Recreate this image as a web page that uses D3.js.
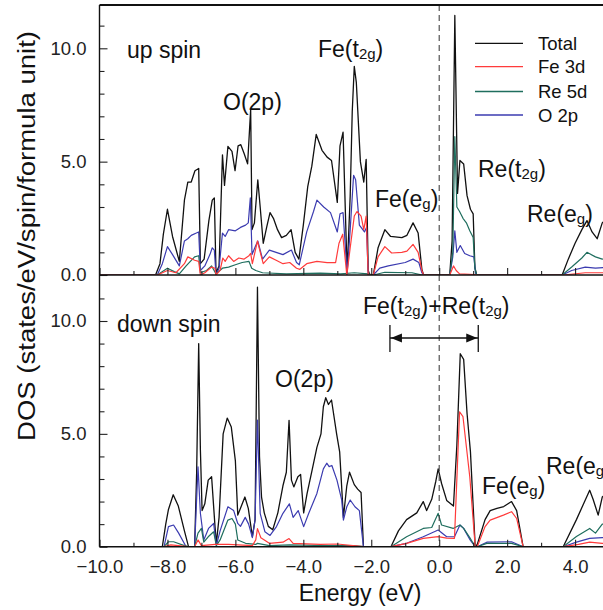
<!DOCTYPE html>
<html><head><meta charset="utf-8">
<script src="https://cdn.jsdelivr.net/npm/d3@7"></script>
<style>html,body{margin:0;padding:0;background:#fff;} svg{display:block;}</style>
</head><body>
<svg id="chart" width="603" height="610"></svg>
<script>
// ---------- data ----------
const energyTicks = [-10, -8, -6, -4, -2, 0, 2, 4];
const dosTicks = [0, 5, 10];
const seriesNames = ["Total", "Fe 3d", "Re 5d", "O 2p"];

// up spin  [energy (eV), DOS]
const upTotal = [[-10,0],[-8.35,0],[-8.22,0.5],[-8.12,1.8],[-8.0,2.9],[-7.85,1.7],[-7.65,0.6],[-7.5,3.3],[-7.4,4.1],[-7.3,4.1],[-7.19,4.6],[-7.08,4.7],[-7.03,0.5],[-6.92,0.7],[-6.78,2.4],[-6.68,3.3],[-6.62,3.4],[-6.57,0.1],[-6.48,0.4],[-6.38,5.3],[-6.32,3.95],[-6.22,5.67],[-6.1,5.45],[-6.01,4.6],[-5.92,5.7],[-5.84,5.75],[-5.74,5.35],[-5.64,4.9],[-5.58,6.5],[-5.55,7.3],[-5.51,2.0],[-5.44,2.3],[-5.34,4.2],[-5.27,3.0],[-5.18,1.4],[-5.08,2.1],[-4.98,2.75],[-4.88,2.5],[-4.76,2.0],[-4.64,1.65],[-4.5,1.75],[-4.36,2.0],[-4.24,1.0],[-4.13,0.7],[-4.0,2.2],[-3.87,3.9],[-3.75,4.8],[-3.62,6.2],[-3.45,5.5],[-3.3,5.2],[-3.17,5.05],[-3.0,3.2],[-2.92,5.7],[-2.83,6.3],[-2.71,0.1],[-2.62,3.5],[-2.56,7.2],[-2.5,9.2],[-2.44,8.5],[-2.32,5.0],[-2.22,4.1],[-2.15,5.1],[-2.09,0.2],[-2.04,0],[-1.94,0],[-1.8,1.2],[-1.6,2.0],[-1.43,1.7],[-1.1,1.65],[-0.95,1.75],[-0.77,2.3],[-0.62,1.85],[-0.51,0.25],[-0.46,0],[0.31,0],[0.38,1.5],[0.46,11.45],[0.54,3.6],[0.61,5.05],[0.72,4.9],[0.82,3.5],[0.92,2.9],[1.0,2.7],[1.05,0.35],[1.1,0],[3.62,0],[3.8,0.7],[4.0,1.4],[4.2,2.0],[4.35,2.4],[4.5,1.9],[4.65,1.6],[4.8,2.3],[5.0,2.6]];
const upFe3d = [[-10,0],[-8.3,0],[-8.0,0.2],[-7.75,0.1],[-7.5,0.5],[-7.4,0.8],[-7.2,0.65],[-7.08,0.6],[-7.03,0],[-6.9,0.1],[-6.7,0.35],[-6.6,0.3],[-6.57,0],[-6.45,0.2],[-6.37,0.75],[-6.3,0.6],[-6.2,0.85],[-6.05,0.6],[-5.9,0.75],[-5.75,0.7],[-5.6,0.85],[-5.55,0.95],[-5.5,0.5],[-5.35,1.5],[-5.25,0.9],[-5.18,0.5],[-5.0,0.8],[-4.8,0.65],[-4.6,0.5],[-4.4,0.55],[-4.2,0.3],[-4.1,0.25],[-3.9,0.5],[-3.6,0.6],[-3.3,0.55],[-3.05,0.55],[-2.95,1.4],[-2.84,1.8],[-2.72,0],[-2.62,1.2],[-2.5,2.6],[-2.42,2.8],[-2.3,2.6],[-2.22,2.0],[-2.15,2.6],[-2.09,0],[-1.94,0],[-1.8,0.8],[-1.6,1.25],[-1.4,0.97],[-1.1,1.0],[-0.95,1.05],[-0.77,1.35],[-0.62,1.0],[-0.51,0.2],[-0.46,0],[0.31,0],[0.42,0.4],[0.5,0.2],[0.6,0.05],[1.05,0.02],[1.1,0],[3.65,0],[4.3,0.1],[5.0,0.1]];
const upRe5d = [[-10,0],[-8.3,0],[-8.0,0.3],[-7.8,0.15],[-7.65,0.05],[-7.45,0.4],[-7.2,0.8],[-7.08,0.85],[-7.03,0.1],[-6.85,0.2],[-6.7,0.4],[-6.57,0.05],[-6.38,0.3],[-6.2,0.35],[-6.0,0.45],[-5.8,0.55],[-5.6,0.6],[-5.52,0.3],[-5.4,0.2],[-5.2,0.1],[-4.5,0.05],[-3.5,0.08],[-2.9,0.05],[-2.5,0.1],[-2.09,0.05],[-1.94,0],[-1.6,0.12],[-0.8,0.1],[-0.5,0],[0.31,0],[0.4,1.0],[0.46,6.1],[0.52,3.0],[0.6,2.8],[0.7,2.5],[0.8,2.3],[0.9,1.95],[1.0,1.65],[1.05,0.3],[1.1,0],[3.62,0],[3.9,0.35],[4.2,0.75],[4.35,1.0],[4.6,0.8],[4.8,0.7],[5.0,0.8]];
const upO2p = [[-10,0],[-8.3,0],[-8.15,0.5],[-8.0,1.25],[-7.85,0.9],[-7.65,0.4],[-7.5,1.5],[-7.4,1.6],[-7.3,1.75],[-7.15,1.85],[-7.08,1.9],[-7.03,0.2],[-6.9,0.4],[-6.75,0.9],[-6.68,1.2],[-6.62,1.1],[-6.57,0],[-6.48,0.3],[-6.38,1.85],[-6.3,1.7],[-6.2,2.0],[-6.0,1.95],[-5.85,2.1],[-5.7,2.2],[-5.62,2.3],[-5.56,3.4],[-5.51,0.9],[-5.4,1.3],[-5.34,1.5],[-5.2,0.7],[-5.0,1.1],[-4.8,1.0],[-4.6,0.9],[-4.35,1.1],[-4.2,0.55],[-4.12,0.45],[-3.9,1.9],[-3.7,2.8],[-3.6,3.3],[-3.4,3.0],[-3.2,2.75],[-3.0,1.9],[-2.92,2.7],[-2.83,2.75],[-2.71,0.05],[-2.62,2.0],[-2.52,4.4],[-2.46,4.2],[-2.35,2.2],[-2.2,1.9],[-2.14,2.1],[-2.09,0],[-1.94,0],[-1.75,0.3],[-1.5,0.4],[-1.0,0.55],[-0.77,0.7],[-0.6,0.55],[-0.51,0.1],[-0.46,0],[0.31,0],[0.4,0.8],[0.46,1.95],[0.52,1.0],[0.62,1.3],[0.75,0.95],[0.9,0.85],[1.02,0.8],[1.07,0.1],[1.1,0],[3.62,0],[3.9,0.2],[4.3,0.35],[4.6,0.3],[5.0,0.35]];

// down spin
const dnTotal = [[-10,0],[-8.15,0],[-8.05,1.0],[-7.97,1.65],[-7.83,2.3],[-7.68,1.8],[-7.5,0.7],[-7.38,0],[-7.2,0],[-7.14,3.3],[-7.08,9.0],[-7.03,4.3],[-6.98,1.6],[-6.9,1.9],[-6.8,2.95],[-6.7,3.1],[-6.6,0.9],[-6.56,0.15],[-6.48,1.3],[-6.36,5.0],[-6.24,5.7],[-6.12,5.3],[-6.0,3.8],[-5.93,1.4],[-5.85,1.7],[-5.72,2.2],[-5.62,1.7],[-5.5,0.45],[-5.42,1.2],[-5.35,11.5],[-5.29,4.0],[-5.23,2.2],[-5.15,1.5],[-5.03,0.9],[-4.9,0.75],[-4.75,1.5],[-4.6,2.7],[-4.5,3.3],[-4.42,5.6],[-4.35,2.95],[-4.28,2.65],[-4.16,3.1],[-4.08,3.2],[-3.99,1.5],[-3.89,2.35],[-3.74,3.4],[-3.6,4.4],[-3.48,5.0],[-3.41,6.2],[-3.34,6.6],[-3.26,6.3],[-3.17,6.5],[-3.02,5.0],[-2.93,4.2],[-2.82,1.3],[-2.72,2.7],[-2.64,3.3],[-2.5,2.75],[-2.4,2.55],[-2.3,2.4],[-2.23,0],[-1.42,0],[-1.2,0.7],[-0.96,1.2],[-0.66,1.5],[-0.47,2.0],[-0.37,1.6],[-0.22,2.1],[-0.1,2.9],[-0.03,3.45],[0.07,2.8],[0.22,2.05],[0.42,1.8],[0.52,4.5],[0.62,8.55],[0.72,8.3],[0.82,5.9],[0.92,4.2],[1.06,0],[1.12,0.1],[1.35,1.2],[1.5,1.6],[1.7,1.7],[1.9,1.78],[2.13,2.0],[2.28,1.6],[2.47,0],[3.65,0],[4.04,1.2],[4.43,2.5],[4.53,2.1],[4.68,1.4],[4.8,2.2],[5.0,2.5]];
const dnFe3d = [[-10,0],[-8.1,0],[-7.9,0.08],[-7.4,0],[-7.2,0],[-7.1,0.3],[-7.0,0.05],[-6.6,0.1],[-6.2,0.1],[-5.5,0.05],[-5.4,0.3],[-5.35,0.8],[-5.25,0.4],[-5.0,0.15],[-4.6,0.2],[-4.42,0.36],[-4.3,0.15],[-3.5,0.1],[-3.0,0.12],[-2.23,0],[-1.42,0],[-0.96,0.15],[-0.47,0.37],[-0.03,0.45],[0.22,0.38],[0.45,0.37],[0.52,3.0],[0.6,5.98],[0.7,5.76],[0.8,4.43],[0.9,3.1],[1.06,0],[1.12,0],[1.35,0.89],[1.5,1.18],[1.89,1.4],[2.13,1.55],[2.28,1.25],[2.47,0],[3.65,0],[4.1,0.1],[4.43,0.2],[4.8,0.15],[5.0,0.15]];
const dnRe5d = [[-10,0],[-8.1,0],[-7.97,0.22],[-7.82,0.22],[-7.5,0.05],[-7.38,0],[-7.2,0],[-7.1,0.6],[-7.0,0.81],[-6.93,0.2],[-6.8,0.44],[-6.64,0.66],[-6.56,0.05],[-6.45,0.3],[-6.22,1.18],[-6.1,1.25],[-6.0,1.0],[-5.93,0.3],[-5.7,0.15],[-5.4,0.1],[-5.35,0.15],[-5.0,0.05],[-4.4,0.08],[-3.3,0.05],[-2.5,0.05],[-2.23,0],[-1.42,0],[-0.96,0.44],[-0.47,0.81],[-0.22,0.85],[-0.03,1.48],[0.07,0.96],[0.41,0.81],[0.61,0.96],[0.72,0.81],[0.9,0.4],[1.06,0],[1.12,0],[1.4,0.15],[2.13,0.15],[2.47,0],[3.65,0],[4.04,0.45],[4.43,0.81],[4.6,0.6],[4.8,1.0],[5.0,1.0]];
const dnO2p = [[-10,0],[-8.1,0],[-7.97,0.89],[-7.82,0.96],[-7.67,0.6],[-7.45,0],[-7.2,0],[-7.1,3.54],[-7.03,1.48],[-6.93,0.3],[-6.79,0.81],[-6.64,1.03],[-6.56,0.05],[-6.45,0.7],[-6.22,1.77],[-6.05,1.6],[-5.93,1.03],[-5.85,0.9],[-5.71,1.3],[-5.61,1.0],[-5.5,0.4],[-5.42,1.2],[-5.35,5.61],[-5.27,1.48],[-5.13,0.66],[-4.98,0.5],[-4.79,0.89],[-4.6,1.48],[-4.41,1.9],[-4.3,1.3],[-4.15,1.6],[-3.99,0.89],[-3.84,1.48],[-3.6,2.36],[-3.41,3.45],[-3.31,3.7],[-3.24,3.55],[-3.16,3.6],[-3.01,2.95],[-2.87,2.07],[-2.82,1.18],[-2.72,1.77],[-2.62,2.07],[-2.48,1.77],[-2.35,1.6],[-2.23,0],[-1.42,0],[-0.96,0.15],[-0.47,0.44],[-0.03,0.74],[0.22,0.44],[0.45,0.44],[0.61,0.96],[0.72,0.81],[0.91,0.3],[1.06,0],[1.12,0],[1.4,0.2],[2.13,0.22],[2.47,0],[3.65,0],[4.04,0.2],[4.43,0.37],[4.8,0.4],[5.0,0.4]];

// ---------- layout ----------
const FONT = "'Liberation Sans', Arial, Helvetica, sans-serif";
const colors = {"Total": "#111111", "Fe 3d": "#ff3b3b", "Re 5d": "#1f6e5e", "O 2p": "#3b3bb0"};
const svg = d3.select("#chart");
svg.append("rect").attr("width", 603).attr("height", 610).attr("fill", "#fff");

const x = d3.scaleLinear().domain([-10, 0]).range([99.5, 439.2]);
const xMax = 5.2;
const yTop = d3.scaleLinear().domain([0, 10]).range([275, 48.3]);
const yBot = d3.scaleLinear().domain([0, 10]).range([546.7, 321]);
const topY0 = 5;

const panels = [
  {y: yTop, top: topY0, bottom: 275, yMaxTick: 11, data: {"Total": upTotal, "Fe 3d": upFe3d, "Re 5d": upRe5d, "O 2p": upO2p}, id: "up"},
  {y: yBot, top: 275, bottom: 546.7, yMaxTick: 11, data: {"Total": dnTotal, "Fe 3d": dnFe3d, "Re 5d": dnRe5d, "O 2p": dnO2p}, id: "dn"}
];

const defs = svg.append("defs");
panels.forEach(p => {
  defs.append("clipPath").attr("id", "clip-" + p.id)
    .append("rect").attr("x", x(-10)).attr("y", p.top)
    .attr("width", x(xMax) - x(-10)).attr("height", p.bottom - p.top);
});

// data lines
const drawOrder = ["Total", "O 2p", "Re 5d", "Fe 3d"];
panels.forEach(p => {
  const line = d3.line().x(d => x(d[0])).y(d => p.y(d[1]));
  const g = svg.append("g").attr("clip-path", "url(#clip-" + p.id + ")");
  drawOrder.forEach(name => {
    g.append("path").datum(p.data[name])
      .attr("d", line).attr("fill", "none")
      .attr("stroke", colors[name]).attr("stroke-width", name === "Total" ? 1.3 : 1.2)
      .attr("stroke-linejoin", "round");
  });
});

// Fermi level dashed line
svg.append("line").attr("x1", x(0)).attr("x2", x(0)).attr("y1", topY0).attr("y2", yBot(0))
  .attr("stroke", "#444").attr("stroke-width", 1.1).attr("stroke-dasharray", "6,4");

// axes
const styleAxis = g => {
  g.select(".domain").remove();
  g.selectAll("line").attr("stroke", "#222").attr("stroke-width", 1.1);
  g.selectAll("text").attr("font-family", FONT).attr("fill", "#222");
};
panels.forEach(p => {
  svg.append("g").attr("transform", `translate(${x(-10)},0)`)
    .call(d3.axisLeft(p.y).tickValues(dosTicks).tickSizeInner(-8).tickSizeOuter(0).tickPadding(13).tickFormat(d3.format(".1f")))
    .call(styleAxis).call(g => g.selectAll("text").attr("font-size", 18.5));
  svg.append("g").attr("transform", `translate(${x(-10)},0)`)
    .call(d3.axisLeft(p.y).tickValues(d3.range(0, p.yMaxTick + 1).filter(v => v % 5 !== 0)).tickSizeInner(-5).tickSizeOuter(0).tickFormat(""))
    .call(styleAxis);
  svg.append("g").attr("transform", `translate(0,${p.bottom})`)
    .call(d3.axisBottom(x).tickValues(energyTicks).tickSizeInner(-7).tickSizeOuter(0).tickFormat(""))
    .call(styleAxis);
  svg.append("g").attr("transform", `translate(0,${p.bottom})`)
    .call(d3.axisBottom(x).tickValues(d3.range(-9, 5, 2)).tickSizeInner(-4).tickSizeOuter(0).tickFormat(""))
    .call(styleAxis);
});
svg.append("g").attr("transform", `translate(0,${yBot(0)})`)
  .call(d3.axisBottom(x).tickValues(energyTicks).tickSize(0).tickPadding(13).tickFormat(d3.format(".1f")))
  .call(styleAxis).call(g => g.selectAll("text").attr("font-size", 18.5));

// frame
const frame = svg.append("g").attr("stroke", "#111").attr("fill", "none");
frame.append("line").attr("x1", x(-10)).attr("x2", x(xMax)).attr("y1", topY0).attr("y2", topY0).attr("stroke-width", 1.8);
frame.append("line").attr("x1", x(-10)).attr("x2", x(xMax)).attr("y1", yTop(0)).attr("y2", yTop(0)).attr("stroke-width", 1.4);
frame.append("line").attr("x1", x(-10)).attr("x2", x(xMax)).attr("y1", yBot(0)).attr("y2", yBot(0)).attr("stroke-width", 1.4);
frame.append("line").attr("x1", x(-10)).attr("x2", x(-10)).attr("y1", topY0).attr("y2", yBot(0)).attr("stroke-width", 1.4);

// axis titles
svg.append("text").attr("x", 360).attr("y", 601).attr("text-anchor", "middle")
  .attr("font-family", FONT).attr("font-size", 23).attr("fill", "#111").text("Energy (eV)");
svg.append("text").attr("transform", "translate(35,236) rotate(-90)").attr("text-anchor", "middle")
  .attr("font-family", FONT).attr("font-size", 23).attr("fill", "#111")
  .attr("textLength", 410).attr("lengthAdjust", "spacingAndGlyphs")
  .text("DOS (states/eV/spin/formula unit)");

// annotations: parts = [text, isSub]
function label(px, py, parts) {
  const t = svg.append("text").attr("x", px).attr("y", py)
    .attr("font-family", FONT).attr("font-size", 23).attr("fill", "#111");
  let shifted = false;
  parts.forEach(([s, sub]) => {
    const ts = t.append("tspan").text(s);
    if (sub && !shifted) { ts.attr("font-size", 15).attr("dy", 2); shifted = true; }
    else if (!sub && shifted) { ts.attr("dy", -2); shifted = false; }
    else if (sub) ts.attr("font-size", 15);
  });
}
label(127, 58, [["up spin"]]);
label(318, 57, [["Fe(t"], ["2g", 1], [")"]]);
label(223, 110, [["O(2p)"]]);
label(375, 207, [["Fe(e"], ["g", 1], [")"]]);
label(478, 177, [["Re(t"], ["2g", 1], [")"]]);
label(527, 222, [["Re(e"], ["g", 1], [")"]]);
label(117, 332, [["down spin"]]);
label(275, 387, [["O(2p)"]]);
label(363, 314, [["Fe(t"], ["2g", 1], [")+Re(t"], ["2g", 1], [")"]]);
label(482, 494, [["Fe(e"], ["g", 1], [")"]]);
label(546, 474, [["Re(e"], ["g", 1], [")"]]);

// arrow annotation
const arrowY = 338, aL = x(-1.45), aR = x(1.15);
const ag = svg.append("g").attr("stroke", "#111").attr("fill", "#111");
ag.append("line").attr("x1", aL).attr("x2", aR).attr("y1", arrowY).attr("y2", arrowY).attr("stroke-width", 1.3);
ag.append("line").attr("x1", aL).attr("x2", aL).attr("y1", arrowY - 13).attr("y2", arrowY + 14).attr("stroke-width", 1.3);
ag.append("line").attr("x1", aR).attr("x2", aR).attr("y1", arrowY - 13).attr("y2", arrowY + 14).attr("stroke-width", 1.3);
ag.append("path").attr("stroke", "none").attr("d", `M${aL + 1},${arrowY} L${aL + 12},${arrowY - 4.5} L${aL + 12},${arrowY + 4.5} Z`);
ag.append("path").attr("stroke", "none").attr("d", `M${aR - 1},${arrowY} L${aR - 12},${arrowY - 4.5} L${aR - 12},${arrowY + 4.5} Z`);

// legend
const legY = [43.3, 66.7, 91.5, 115];
seriesNames.forEach((name, i) => {
  svg.append("line").attr("x1", 475).attr("x2", 523).attr("y1", legY[i]).attr("y2", legY[i])
    .attr("stroke", colors[name]).attr("stroke-width", 1.3);
  svg.append("text").attr("x", 538).attr("y", legY[i] + 6.5)
    .attr("font-family", FONT).attr("font-size", 18.5).attr("fill", "#111").text(name);
});
</script>
</body></html>
